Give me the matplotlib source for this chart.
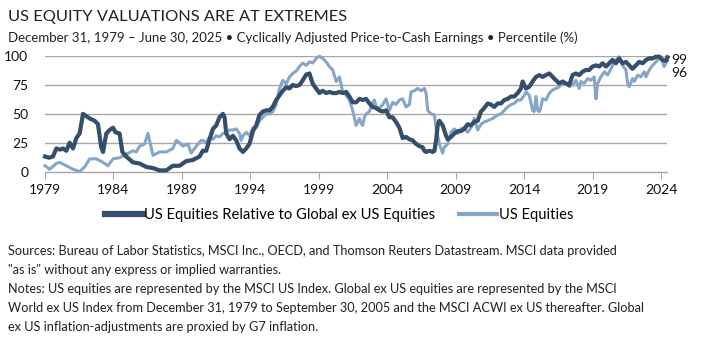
import matplotlib
matplotlib.use("Agg")
import matplotlib.pyplot as plt
from matplotlib.lines import Line2D

# US equities relative to global ex US (percentile), dates as decimal years
rel_dates = [1980.0, 1980.3, 1980.58, 1980.83, 1981.1, 1981.32, 1981.56, 1981.8, 1982.05, 1982.29,
             1982.53, 1982.78, 1983.02, 1983.26, 1983.63, 1983.87, 1984.11, 1984.24, 1984.48, 1984.72,
             1984.97, 1985.16, 1985.45, 1985.65, 1985.94, 1986.42, 1986.91, 1987.4, 1987.89, 1988.37,
             1988.86, 1989.34, 1989.83, 1990.31, 1990.8, 1991.29, 1991.53, 1991.78, 1992.02, 1992.27,
             1992.51, 1992.75, 1993.0, 1993.12, 1993.24, 1993.48, 1993.73, 1993.97, 1994.21, 1994.46,
             1994.7, 1994.94, 1995.19, 1995.43, 1995.67, 1995.92, 1996.16, 1996.4, 1996.64, 1996.89,
             1997.13, 1997.37, 1997.62, 1997.86, 1998.1, 1998.35, 1998.59, 1998.83, 1999.08, 1999.32,
             1999.56, 1999.81, 2000.05, 2000.29, 2000.54, 2000.78, 2001.02, 2001.27, 2001.51, 2001.75,
             2002.0, 2002.24, 2002.48, 2002.73, 2002.97, 2003.21, 2003.46, 2003.7, 2003.94, 2004.19,
             2004.43, 2004.67, 2004.92, 2005.16, 2005.4, 2005.64, 2005.89, 2006.13, 2006.37, 2006.62,
             2006.86, 2007.1, 2007.35, 2007.59, 2007.71, 2007.84, 2008.08, 2008.32, 2008.45, 2008.57,
             2008.69, 2008.81, 2009.05, 2009.3, 2009.42, 2009.66, 2009.91, 2010.15, 2010.39, 2010.63,
             2010.88, 2011.12, 2011.36, 2011.61, 2011.85, 2012.09, 2012.34, 2012.58, 2012.82, 2013.07,
             2013.31, 2013.55, 2013.8, 2014.04, 2014.28, 2014.53, 2014.77, 2014.89, 2015.14, 2015.38,
             2015.62, 2015.87, 2016.11, 2016.35, 2016.6, 2016.84, 2017.08, 2017.33, 2017.57, 2017.81,
             2018.05, 2018.3, 2018.54, 2018.78, 2019.03, 2019.27, 2019.51, 2019.76, 2020.0, 2020.25,
             2020.49, 2020.73, 2020.98, 2021.22, 2021.46, 2021.71, 2021.95, 2022.19, 2022.44, 2022.68,
             2022.92, 2023.17, 2023.41, 2023.66, 2023.9, 2024.14, 2024.39, 2024.63, 2024.87, 2025.11,
             2025.35, 2025.48]
rel_values = [13, 12, 13, 20, 19, 20, 18, 25, 20, 29,
              33, 50, 48, 46, 44, 41, 21, 17, 33, 36,
              38, 34, 33, 17, 13, 8, 7, 4, 3, 1,
              1, 5, 5, 9, 10, 13, 18, 18, 28, 37,
              40, 47, 50, 47, 33, 28, 31, 27, 20, 17,
              20, 24, 35, 40, 49, 52, 53, 53, 56, 62,
              66, 70, 73, 72, 75, 74, 75, 79, 84, 85,
              76, 72, 68, 70, 68, 69, 68, 68, 69, 68,
              69, 65, 60, 60, 63, 62, 63, 59, 56, 55,
              53, 52, 53, 47, 47, 43, 38, 29, 30, 28,
              27, 24, 22, 21, 18, 17, 18, 17, 18, 27,
              40, 44, 40, 31, 28, 30, 33, 35, 35, 37,
              41, 40, 43, 44, 52, 55, 59, 58, 56, 59,
              59, 62, 63, 65, 65, 68, 72, 78, 72, 73.5,
              78, 82, 83.6, 82, 83.6, 85, 82, 79, 76.4, 78,
              76.4, 75, 83.6, 85, 83.6, 86.5, 88, 88, 91, 92,
              91, 93.8, 91, 93.8, 96.7, 93.8, 98, 93.8, 95, 92,
              89, 92, 95, 93.8, 96.7, 98, 98, 99.5, 99.5, 96.7,
              96, 99]

# US equities (percentile)
us_dates = [1980.0, 1980.34, 1980.83, 1981.07, 1981.56, 1982.05, 1982.53, 1982.9, 1983.26, 1983.75,
            1984.24, 1984.6, 1984.97, 1985.45, 1985.94, 1986.42, 1986.67, 1986.91, 1987.28, 1987.52,
            1987.64, 1987.89, 1988.37, 1988.86, 1989.34, 1989.59, 1989.83, 1990.07, 1990.44, 1990.68,
            1991.05, 1991.41, 1991.53, 1991.78, 1992.02, 1992.27, 1992.51, 1992.75, 1993.0, 1993.24,
            1993.48, 1993.73, 1993.97, 1994.21, 1994.33, 1994.46, 1994.7, 1994.94, 1995.19, 1995.43,
            1995.67, 1995.92, 1996.16, 1996.4, 1996.64, 1996.89, 1997.13, 1997.37, 1997.62, 1997.86,
            1998.1, 1998.35, 1998.59, 1998.83, 1999.08, 1999.32, 1999.56, 1999.81, 2000.05, 2000.29,
            2000.54, 2000.78, 2001.02, 2001.27, 2001.51, 2001.75, 2002.0, 2002.24, 2002.48, 2002.73,
            2002.97, 2003.09, 2003.21, 2003.33, 2003.46, 2003.7, 2003.94, 2004.07, 2004.19, 2004.43,
            2004.67, 2004.92, 2005.16, 2005.4, 2005.64, 2005.89, 2006.13, 2006.37, 2006.62, 2006.74,
            2006.98, 2007.23, 2007.47, 2007.71, 2007.84, 2007.96, 2008.2, 2008.45, 2008.57, 2008.81,
            2009.05, 2009.17, 2009.42, 2009.66, 2009.91, 2010.15, 2010.39, 2010.63, 2010.88, 2011.12,
            2011.36, 2011.61, 2011.85, 2012.09, 2012.34, 2012.7, 2013.07, 2013.31, 2013.55, 2013.8,
            2014.04, 2014.28, 2014.53, 2014.77, 2015.01, 2015.14, 2015.38, 2015.62, 2015.74, 2015.87,
            2015.99, 2016.11, 2016.23, 2016.35, 2016.6, 2016.84, 2017.08, 2017.33, 2017.57, 2017.81,
            2018.05, 2018.3, 2018.54, 2018.78, 2019.03, 2019.15, 2019.39, 2019.64, 2019.88, 2020.12,
            2020.25, 2020.37, 2020.61, 2020.86, 2021.1, 2021.34, 2021.59, 2021.83, 2021.95, 2022.19,
            2022.44, 2022.56, 2022.68, 2022.92, 2023.05, 2023.29, 2023.53, 2023.78, 2023.9, 2024.14,
            2024.39, 2024.63, 2024.87, 2024.99, 2025.11, 2025.23, 2025.35, 2025.48]
us_values = [5, 2, 7, 8, 5, 2, 0, 4, 11, 11,
             8, 5, 11, 12, 15, 18, 17, 22, 24, 33,
             27, 14, 17, 17, 20, 27, 25, 22, 24, 16,
             22, 27, 27, 25, 30, 28, 31, 30, 33, 34,
             36, 36, 37, 33, 27, 31, 34, 31, 38, 38,
             44, 47, 50, 50, 52, 58, 72, 79, 76, 82,
             85, 87, 91, 94, 92, 95, 94, 98, 100, 98,
             95, 91, 88, 78, 82, 69, 66, 62, 53, 40,
             46, 42, 40, 47, 50, 52, 60, 62, 56, 55,
             58, 63, 53, 60, 58, 62, 63, 56, 58, 69,
             70, 72, 70, 72, 68, 53, 50, 49, 38, 24,
             16, 21, 24, 34, 37, 33, 37, 38, 34, 38,
             46, 36, 41, 43, 44, 46, 49, 50, 53, 56,
             58, 59, 62, 62, 66, 69, 66, 53, 52, 65,
             53, 52, 56, 63, 62, 68, 70.6, 72, 73.5, 76.4,
             76.4, 73.5, 75, 79, 72, 78, 76.4, 80.6, 79, 82,
             63, 76.4, 82, 86.5, 83.6, 89, 95, 98, 99.5, 92,
             88, 76.4, 73.5, 80.6, 78, 83.6, 82, 86.5, 82, 88,
             92, 95, 98, 99.5, 95, 91, 94, 96]

year_ticks = [1979, 1984, 1989, 1994, 1999, 2004, 2009, 2014, 2019, 2024]
pct_ticks = [0, 25, 50, 75, 100]

dark = "#344e6c"
light = "#87a5c6"
grid_c = "#a6a6a6"

plt.rcParams["font.family"] = ["Lato", "DejaVu Sans"]

fig = plt.figure(figsize=(7.03, 3.53), dpi=100)
ax = fig.add_axes([0.064, 0.514, 0.885, 0.327])

ax.plot(rel_dates, rel_values, color=dark, lw=3.0, solid_joinstyle="round", zorder=3, clip_on=False)
ax.plot(us_dates, us_values, color=light, lw=2.2, solid_joinstyle="round", zorder=2, clip_on=False)

ax.set_xlim(1980.0, 2025.45)
ax.set_ylim(0, 100)
ax.set_xticks([y + 1 for y in year_ticks])
ax.set_xticklabels([str(y) for y in year_ticks], fontsize=10, color="#111111")
ax.set_yticks(pct_ticks)
ax.set_yticklabels([str(p) for p in pct_ticks], fontsize=10, color="#111111")
ax.tick_params(axis="x", length=5, color=grid_c, pad=4)
ax.tick_params(axis="y", length=0, pad=12)
for p in pct_ticks[1:]:
    ax.axhline(p, color=grid_c, lw=1.0, zorder=1)
for s in ["top", "right", "left"]:
    ax.spines[s].set_visible(False)
ax.spines["bottom"].set_color(grid_c)
ax.spines["bottom"].set_linewidth(1.0)

# end labels
ax.text(2025.75, 96.5, "99", fontsize=10, va="center", ha="left", color="#111111")
ax.text(2025.75, 85.5, "96", fontsize=10, va="center", ha="left", color="#111111")

fig.text(0.011, 0.952, "US EQUITY VALUATIONS ARE AT EXTREMES", fontsize=11.8,
         color="#222222", va="center")
fig.text(0.011, 0.893, "December 31, 1979 \u2013 June 30, 2025 \u2022 Cyclically Adjusted Price-to-Cash Earnings "
         "\u2022 Percentile (%)", fontsize=9.5, color="#222222", va="center")

handles = [Line2D([], [], color=dark, lw=4.5),
           Line2D([], [], color=light, lw=3.0)]
fig.legend(handles, ["US Equities Relative to Global ex US Equities", "US Equities"],
           loc="center", bbox_to_anchor=(0.482, 0.39), ncol=2, frameon=False,
           handlelength=2.6, handletextpad=0.1, columnspacing=1.6,
           prop={"size": 10.6})

notes = ("Sources: Bureau of Labor Statistics, MSCI Inc., OECD, and Thomson Reuters Datastream. MSCI data provided\n"
         "\"as is\" without any express or implied warranties.\n"
         "Notes: US equities are represented by the MSCI US Index. Global ex US equities are represented by the MSCI\n"
         "World ex US Index from December 31, 1979 to September 30, 2005 and the MSCI ACWI ex US thereafter. Global\n"
         "ex US inflation-adjustments are proxied by G7 inflation.")
fig.text(0.011, 0.305, notes, fontsize=9.2, color="#222222",
         va="top", linespacing=1.7)

fig.savefig("out.png", dpi=100)
